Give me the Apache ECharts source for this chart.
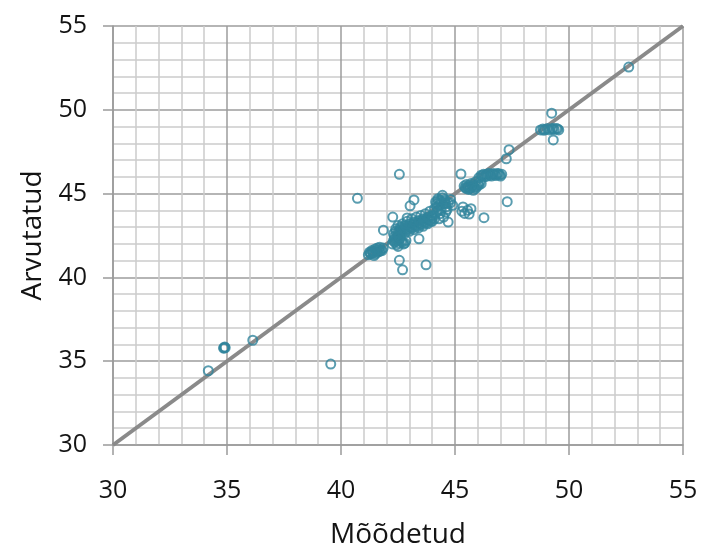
<!DOCTYPE html>
<html>
<head>
<meta charset="utf-8">
<script src="https://cdn.jsdelivr.net/npm/echarts@6/dist/echarts.min.js"></script>
<style>html,body{margin:0;padding:0;background:#fff}#c{width:702px;height:549px}</style>
</head>
<body>
<div id="c"></div>
<script>
// Axis setup
const xAxisName = "Mõõdetud";
const yAxisName = "Arvutatud";
const axisRange = [30, 55];
// Reference line y = x
const diagonal = [30, 55];

const measured = [
  34.18, 34.87, 34.90, 34.85, 34.92, 36.13, 39.55, 40.72, 42.56, 45.26,
  47.37, 47.25, 47.29, 46.27, 49.24, 49.31, 52.62, 42.56, 42.70, 43.73,
  43.42, 44.70, 41.86, 42.27, 43.03, 43.20, 42.90, 45.35, 45.55, 45.62,
  45.42, 45.70, 45.30,
  48.75, 48.85, 48.95, 49.05, 49.15, 49.25, 49.35, 49.45, 49.55, 48.90, 49.30, 49.50,
  46.15, 46.25, 46.35, 46.45, 46.55, 46.65, 46.75, 46.85, 46.95, 47.05, 46.30, 46.05,
  46.20, 46.40, 46.60, 46.80, 47.00, 46.50, 46.70, 46.90,
  45.45, 45.55, 45.65, 45.75, 45.85, 45.95, 46.05, 46.15, 45.50, 45.70, 45.90, 45.60, 45.80,
  45.40, 45.60, 45.80, 46.00, 45.50, 45.70, 45.90, 46.10,
  44.15, 44.25, 44.35, 44.45, 44.55, 44.30, 44.50, 44.20, 44.60, 44.40, 44.70, 44.80, 44.90,
  44.35, 44.50, 44.30, 44.60, 44.45, 44.20, 44.40, 44.60, 44.80, 44.25, 44.55, 44.35, 44.65,
  42.30, 42.40, 42.50, 42.60, 42.70, 42.80, 42.90, 43.00, 43.10, 43.20, 43.30, 43.40, 43.50,
  43.60, 43.70, 43.80, 43.90, 44.00, 44.10, 44.20, 42.45, 42.60, 42.80, 43.00, 43.20, 43.40,
  43.60, 43.80, 44.00, 42.50, 42.70, 42.90, 43.10, 43.30, 43.50, 43.70, 43.90, 44.10, 42.35, 42.55,
  42.40, 42.60, 42.80, 43.00, 43.20, 43.40, 43.60, 43.80, 44.00, 42.55, 42.75, 42.95, 43.15,
  43.35, 43.55, 43.75, 43.95, 42.65, 42.85, 43.05, 43.25, 43.45, 43.65, 43.85, 44.05,
  42.25, 42.35, 42.45, 42.55, 42.65, 42.75, 42.85, 42.45, 42.60, 42.30, 42.50,
  42.40, 42.70, 42.80, 42.35, 42.55,
  41.20, 41.30, 41.40, 41.50, 41.60, 41.70, 41.80, 41.35, 41.50, 41.60, 41.70, 41.25, 41.85, 41.45,
  41.40, 41.55, 41.65, 41.75, 41.30, 41.45
];
const computed = [
  34.43, 35.80, 35.85, 35.78, 35.80, 36.25, 34.83, 44.72, 46.15, 46.17,
  47.62, 47.08, 44.52, 43.56, 49.80, 48.20, 52.55, 41.02, 40.45, 40.75,
  42.30, 43.30, 42.82, 43.60, 44.27, 44.62, 43.55, 44.20, 44.00, 43.78,
  43.82, 44.10, 43.95,
  48.80, 48.85, 48.82, 48.88, 48.80, 48.85, 48.82, 48.88, 48.80, 48.78, 48.90, 48.86,
  46.10, 46.15, 46.12, 46.18, 46.10, 46.15, 46.12, 46.18, 46.12, 46.15, 46.00, 45.95,
  46.05, 46.05, 46.05, 46.08, 46.05, 46.20, 46.20, 46.20,
  45.35, 45.40, 45.30, 45.45, 45.38, 45.42, 45.50, 45.60, 45.55, 45.60, 45.70, 45.25, 45.20,
  45.45, 45.48, 45.50, 45.55, 45.30, 45.35, 45.30, 45.70,
  44.50, 44.70, 44.60, 44.75, 44.55, 44.30, 44.40, 44.20, 44.20, 44.00, 44.45, 44.65, 44.30,
  43.80, 43.60, 43.50, 43.90, 44.90, 44.40, 44.50, 44.40, 44.45, 44.60, 44.65, 44.10, 44.05,
  42.60, 42.90, 42.70, 43.00, 42.80, 43.10, 42.90, 43.20, 43.00, 43.30, 43.10, 43.40, 43.20,
  43.50, 43.30, 43.60, 43.40, 43.70, 43.50, 43.90, 42.45, 42.55, 42.65, 42.75, 42.85, 42.95,
  43.05, 43.20, 43.35, 43.10, 43.20, 43.35, 43.50, 43.60, 43.70, 43.80, 43.95, 44.10, 42.30, 42.25,
  42.75, 42.85, 42.95, 43.05, 43.15, 43.25, 43.35, 43.45, 43.55, 42.65, 42.75, 42.85, 42.95,
  43.05, 43.15, 43.25, 43.35, 42.95, 43.05, 43.15, 43.25, 43.35, 43.45, 43.55, 43.65,
  42.00, 42.10, 41.95, 42.05, 42.15, 42.00, 42.20, 42.30, 42.35, 42.20, 41.85,
  42.15, 42.10, 42.05, 42.45, 42.40,
  41.35, 41.40, 41.45, 41.40, 41.50, 41.55, 41.60, 41.60, 41.70, 41.75, 41.80, 41.50, 41.75, 41.30,
  41.55, 41.60, 41.65, 41.65, 41.45, 41.50
];

const points = measured.map((x, i) => [x, computed[i]]);
const textColor = '#141414';
const font = '"Open Sans", sans-serif';

function axis(name, isY) {
  return {
    type: 'value',
    min: axisRange[0], max: axisRange[1], interval: 5,
    name: name,
    nameLocation: 'middle',
    nameGap: isY ? 64 : 76,
    nameTextStyle: { color: textColor, fontSize: 28, fontFamily: font },
    axisLine: { show: true, lineStyle: { color: '#9a9a9a', width: 1.5 } },
    axisTick: { show: true, length: 10, lineStyle: { color: '#9a9a9a', width: 1.5 } },
    axisLabel: { color: textColor, fontSize: 25, fontFamily: font, margin: isY ? 26 : 33 },
    splitLine: { show: true, lineStyle: { color: '#9c9c9c', width: 1.5 } },
    minorTick: { show: false, splitNumber: 5 },
    minorSplitLine: { show: true, lineStyle: { color: '#cbcbcb', width: 1.5 } }
  };
}

const chart = echarts.init(document.getElementById('c'), null, { renderer: 'canvas' });
chart.setOption({
  animation: false,
  backgroundColor: '#fff',
  grid: { left: 113, right: 19, top: 26, bottom: 104, containLabel: false, outerBoundsMode: 'none' },
  xAxis: axis(xAxisName, false),
  yAxis: axis(yAxisName, true),
  series: [
    {
      type: 'line',
      data: [[diagonal[0], diagonal[0]], [diagonal[1], diagonal[1]]],
      symbol: 'none',
      lineStyle: { color: '#8a8a8a', width: 4 },
      z: 2
    },
    {
      type: 'scatter',
      data: points,
      symbol: 'circle',
      symbolSize: 9,
      itemStyle: { color: 'rgba(255,255,255,0)', borderColor: '#31859C', borderWidth: 2 },
      z: 3
    }
  ]
});
</script>
</body>
</html>
